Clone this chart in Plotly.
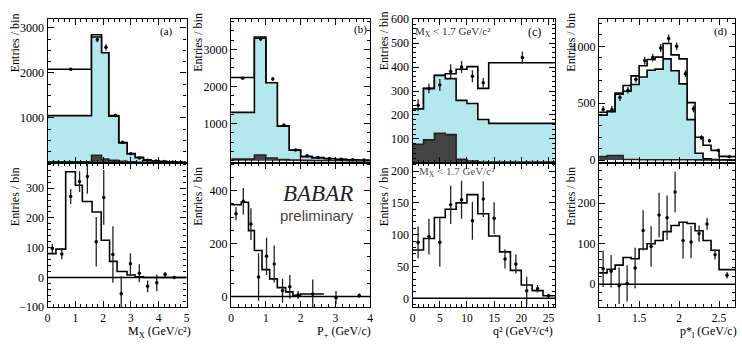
import plotly.graph_objects as go

W, H = 742, 345

# ---------------- data ----------------
# (a) M_X
a_top_edges = [0, 1.58, 1.94, 2.2, 2.56, 2.86, 3.15, 3.45, 3.73, 4.02, 4.3, 4.6, 5.0]
a_top_total = [2080, 2850, 2450, 1050, 453, 206, 121, 64, 43, 30, 20, 12]
a_top_bkg = [1050, 2800, 2450, 1040, 445, 200, 115, 60, 40, 27, 18, 10]
a_top_dark = [25, 170, 85, 55, 35, 25, 15, 10, 5, 3, 2, 1]
a_top_x = [0.83, 1.79, 2.1, 2.44, 2.7, 3.0, 3.3, 3.6, 3.9, 4.2, 4.5, 4.8]
a_top_y = [2080, 2740, 2570, 1055, 458, 200, 110, 60, 40, 30, 20, 10]
a_top_err = [30, 60, 70, 40, 25, 20, 15, 10, 10, 8, 8, 5]

a_bot_edges = [0, 0.3, 0.65, 1.0, 1.25, 1.6, 1.93, 2.23, 2.5, 2.86, 3.15, 3.45, 5.0]
a_bot_vals = [80, 95, 355, 310, 255, 220, 125, 54, 20, 8, 2, 0]
a_bot_x = [0.17, 0.51, 0.83, 1.15, 1.43, 1.75, 2.02, 2.35, 2.65, 2.98, 3.3, 3.6, 3.93, 4.23, 4.56]
a_bot_y = [97, 79, 272, 322, 339, 120, 269, 77, -55, 46, 14, -30, -18, 10, 0]
a_bot_err = [15, 18, 25, 35, 58, 83, 92, 95, 60, 35, 30, 20, 28, 8, 4]

# (b) P+
b_top_edges = [0, 0.67, 1.0, 1.33, 1.67, 2.0, 2.33, 2.67, 3.0, 3.33, 3.67, 4.0]
b_top_total = [2240, 3330, 2100, 930, 285, 112, 80, 55, 35, 20, 10]
b_top_bkg = [1300, 3300, 2100, 930, 280, 108, 75, 50, 30, 18, 8]
b_top_dark = [40, 150, 70, 30, 15, 8, 5, 3, 2, 1, 1]
b_top_x = [0.33, 0.85, 1.2, 1.52, 1.86, 2.19, 2.5, 2.83, 3.17, 3.5, 3.83]
b_top_y = [2220, 3280, 2200, 960, 285, 130, 86, 60, 40, 25, 15]
b_top_err = [30, 50, 50, 30, 20, 15, 10, 10, 8, 5, 5]

b_bot_edges = [0, 0.29, 0.5, 0.67, 0.89, 1.11, 1.33, 1.57, 1.78, 2.0, 2.67]
b_bot_vals = [347, 356, 249, 174, 102, 67, 34, 18, 5, 10]
b_bot_x = [0.14, 0.35, 0.57, 0.79, 1.02, 1.24, 1.48, 1.69, 1.93, 2.35, 3.02, 3.69]
b_bot_y = [313, 360, 274, 74, 152, 123, 22, 37, 6, 10, -4, 4]
b_bot_err = [25, 50, 60, 90, 70, 70, 45, 45, 15, 55, 25, 8]

# (c) q^2
c_top_edges = [0, 2, 4, 6, 8, 10, 12, 14, 26.3]
c_top_total = [225, 311, 366, 372, 391, 402, 311, 418]
c_top_bkg = [225, 310, 365, 352, 261, 248, 181, 165]
c_top_dark = [78, 96, 123, 118, 15, 8, 3, 3]
c_top_x = [1, 3, 5, 7, 9, 11, 13, 20.2]
c_top_y = [241, 311, 325, 382, 400, 362, 335, 440]
c_top_err = [25, 20, 25, 30, 25, 25, 20, 25]

c_bot_edges = [0, 2, 4, 6, 8, 10, 12, 14, 16, 18, 20, 22, 24, 26.3]
c_bot_vals = [76, 94, 127, 140, 150, 163, 133, 98, 73, 44, 21, 12, 4]
c_bot_x = [1, 3, 5, 7, 9, 11, 13, 15, 17, 19, 21, 23, 25]
c_bot_y = [88, 97, 88, 147, 155, 122, 156, 126, 62, 54, 12, 15, 4]
c_bot_err = [25, 28, 38, 30, 30, 30, 28, 25, 15, 15, 22, 6, 3]

# (d) p*_l
d_edges = [1.0, 1.1, 1.2, 1.3, 1.4, 1.5, 1.6, 1.7, 1.8, 1.9, 2.0, 2.1, 2.2, 2.3, 2.4, 2.5, 2.6, 2.7]
d_top_total = [420, 430, 590, 655, 740, 830, 885, 905, 1025, 925, 890, 505, 200, 130, 85, 32, 30]
d_top_bkg = [395, 425, 580, 605, 665, 730, 790, 800, 890, 785, 670, 355, 60, 10, 5, 2, 1]
d_top_dark = [30, 40, 40, 5, 5, 3, 3, 2, 2, 2, 2, 2, 1, 1, 0, 0, 0]
d_top_x = [1.05, 1.16, 1.26, 1.36, 1.46, 1.57, 1.67, 1.77, 1.87, 1.97, 2.08, 2.18, 2.28, 2.38, 2.49, 2.63]
d_top_y = [445, 445, 550, 614, 710, 873, 901, 986, 1070, 1000, 760, 450, 197, 170, 85, 28]
d_top_err = [30, 30, 30, 30, 30, 35, 35, 35, 35, 35, 30, 30, 20, 15, 12, 8]

d_bot_vals = [28, 37, 47, 66, 63, 87, 100, 108, 130, 145, 153, 150, 132, 108, 84, 36, 36]
d_bot_x = [1.05, 1.15, 1.25, 1.35, 1.45, 1.55, 1.65, 1.75, 1.85, 1.95, 2.05, 2.15, 2.25, 2.35, 2.45, 2.6]
d_bot_y = [38, 32, -4, 2, 40, 133, 93, 171, 164, 228, 108, 104, 125, 149, 73, 22]
d_bot_err = [45, 40, 45, 45, 50, 50, 50, 55, 55, 50, 45, 40, 20, 15, 12, 8]

# ---------------- layout helpers ----------------
CYAN = "#b3e9ee"
DARK = "#444444"
SERIF = "Liberation Serif"

def px_x(p):
    return p / W

def px_y(p):
    return 1 - p / H

cols = [(45, 185), (230, 370), (413, 557), (601, 738)]
top_row = (13, 163)
bot_row = (163, 313)

fig = go.Figure()


def step(edges, vals):
    return list(edges), list(vals) + [vals[-1]]


def add_hist(ax, edges, vals, fillcolor=None, color="black", width=1.6):
    x, y = step(edges, vals)
    fig.add_trace(go.Scatter(
        x=x, y=y, mode="lines", line=dict(shape="hv", color=color, width=width),
        fill="tozeroy" if fillcolor else None, fillcolor=fillcolor,
        xaxis="x" + ax, yaxis="y" + ax, showlegend=False, hoverinfo="skip"))


def add_points(ax, xs, ys, errs):
    fig.add_trace(go.Scatter(
        x=xs, y=ys, mode="markers",
        marker=dict(color="black", size=3.5),
        error_y=dict(type="data", array=errs, color="#222222", thickness=1.3, width=0),
        xaxis="x" + ax, yaxis="y" + ax, showlegend=False, cliponaxis=True))


top_ids = ["", "2", "3", "4"]
bot_ids = ["5", "6", "7", "8"]

# (a)
add_hist("", a_top_edges, a_top_total)
add_hist("", a_top_edges, a_top_bkg, fillcolor=CYAN)
add_hist("", a_top_edges, a_top_dark, fillcolor=DARK, color="#222222")
add_points("", a_top_x, a_top_y, a_top_err)
add_hist("5", a_bot_edges, a_bot_vals)
add_points("5", a_bot_x, a_bot_y, a_bot_err)
# (b)
add_hist("2", b_top_edges, b_top_total)
add_hist("2", b_top_edges, b_top_bkg, fillcolor=CYAN)
add_hist("2", b_top_edges, b_top_dark, fillcolor=DARK, color="#222222")
add_points("2", b_top_x, b_top_y, b_top_err)
add_hist("6", b_bot_edges, b_bot_vals)
add_points("6", b_bot_x, b_bot_y, b_bot_err)
# (c)
add_hist("3", c_top_edges, c_top_total)
add_hist("3", c_top_edges, c_top_bkg, fillcolor=CYAN)
add_hist("3", c_top_edges, c_top_dark, fillcolor=DARK, color="#222222")
add_points("3", c_top_x, c_top_y, c_top_err)
add_hist("7", c_bot_edges, c_bot_vals)
add_points("7", c_bot_x, c_bot_y, c_bot_err)
# (d)
add_hist("4", d_edges, d_top_total)
add_hist("4", d_edges, d_top_bkg, fillcolor=CYAN)
add_hist("4", d_edges, d_top_dark, fillcolor=DARK, color="#222222")
add_points("4", d_top_x, d_top_y, d_top_err)
add_hist("8", d_edges, d_bot_vals)
add_points("8", d_bot_x, d_bot_y, d_bot_err)

x_ranges = [[0, 5], [0, 4], [0, 26.3], [1, 2.7]]
x_ticks = [[0, 1, 2, 3, 4, 5], [0, 1, 2, 3, 4], [0, 5, 10, 15, 20, 25], [1, 1.5, 2, 2.5]]
x_minor = [0.2, 0.2, 1, 0.1]
top_y_ranges = [[0, 3210], [-60, 3830], [0, 603], [-25, 1245]]
top_y_ticks = [[1000, 2000, 3000], [1000, 2000, 3000], [100, 200, 300, 400, 500, 600], [0, 500, 1000]]
top_y_minor = [250, 250, 20, 100]
bot_y_ranges = [[-100, 385], [-40, 505], [-14, 213], [-57, 300]]
bot_y_ticks = [[-100, 0, 100, 200, 300], [0, 200, 400], [0, 50, 100, 150, 200], [0, 100, 200]]
bot_y_minor = [20, 50, 10, 20]

axis_common = dict(showline=True, linecolor="black", linewidth=1.3, mirror="ticks",
                   ticks="inside", ticklen=6, tickcolor="black", tickwidth=1.1,
                   showgrid=False, zeroline=False,
                   tickfont=dict(family=SERIF, size=12, color="black"))

layout = {}
for i in range(4):
    c0, c1 = cols[i]
    xd = [px_x(c0), px_x(c1)]
    tid = top_ids[i]
    bid = bot_ids[i]
    layout["xaxis" + tid] = dict(axis_common, domain=xd, range=x_ranges[i], anchor="y" + tid,
                                 tickvals=x_ticks[i], showticklabels=False,
                                 minor=dict(ticks="inside", ticklen=3, dtick=x_minor[i], tickcolor="black"))
    layout["yaxis" + tid] = dict(axis_common, domain=[px_y(top_row[1]), px_y(top_row[0])],
                                 range=top_y_ranges[i], anchor="x" + tid, tickvals=top_y_ticks[i],
                                 minor=dict(ticks="inside", ticklen=3, dtick=top_y_minor[i], tickcolor="black"))
    layout["xaxis" + bid] = dict(axis_common, domain=xd, range=x_ranges[i], anchor="y" + bid,
                                 tickvals=x_ticks[i], ticklabelstandoff=0,
                                 tickfont=dict(family=SERIF, size=11.5, color="black"),
                                 minor=dict(ticks="inside", ticklen=3, dtick=x_minor[i], tickcolor="black"))
    layout["yaxis" + bid] = dict(axis_common, domain=[px_y(bot_row[1]), px_y(bot_row[0])],
                                 range=bot_y_ranges[i], anchor="x" + bid, tickvals=bot_y_ticks[i],
                                 minor=dict(ticks="inside", ticklen=3, dtick=bot_y_minor[i], tickcolor="black"))

fig.update_layout(**layout)

shapes = []
for bid in bot_ids:
    shapes.append(dict(type="line", xref="x" + bid + " domain", x0=0, x1=1,
                       yref="y" + bid, y0=0, y1=0, line=dict(color="black", width=1.5)))

ann = []

def text(x, y, s, size=12, xanchor="center", yanchor="middle", angle=0, color="black", family=SERIF):
    ann.append(dict(x=px_x(x), y=px_y(y), xref="paper", yref="paper", text=s, showarrow=False,
                    xanchor=xanchor, yanchor=yanchor, textangle=angle,
                    font=dict(family=family, size=size, color=color)))

# panel labels
text(165, 26, "(a)", 11)
text(360, 24, "(b)", 11)
text(536, 27, "(c)", 12)
text(723, 26, "(d)", 11)
text(454, 27, "M<sub>X</sub> < 1.7 GeV/c²", 11, color="#333333")
text(458, 173, "M<sub>X</sub> < 1.7 GeV/c²", 11, color="#555555")

# y titles
for x, y in [(12, 5), (197, 5), (384, 3), (573, 5)]:
    text(x, y, "Entries / bin", 12, yanchor="top", angle=-90)
for x, y in [(12, 165), (197, 165), (384, 165), (573, 165)]:
    text(x, y, "Entries / bin", 12, yanchor="top", angle=-90)

# x titles
text(192, 339, "M<sub>X</sub> (GeV/c²)", 12, xanchor="right")
text(373, 339, "P<sub>+</sub> (GeV/c)", 12, xanchor="right")
text(557, 338, "q² (GeV²/c⁴)", 12, xanchor="right")
text(742, 339, "p*<sub>l</sub> (GeV/c)", 12, xanchor="right")

# BABAR preliminary
text(318, 195, "<i>BABAR</i>", 23, color="#222222")
text(317, 218, "preliminary", 15, color="#444444", family="Liberation Sans")

fig.update_layout(width=W, height=H, margin=dict(l=0, r=0, t=0, b=0),
                  paper_bgcolor="white", plot_bgcolor="white",
                  shapes=shapes, annotations=ann, showlegend=False)

fig.write_html("out.html")
